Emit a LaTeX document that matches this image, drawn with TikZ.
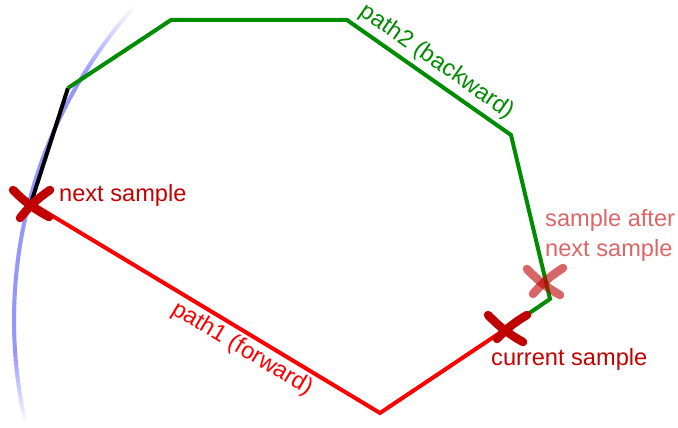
\documentclass[tikz,border=0pt]{standalone}
\usepackage{fontspec}
\setmainfont{Liberation Sans}
\definecolor{arcblue}{RGB}{150,150,255}
\definecolor{trgreen}{RGB}{0,140,0}
\definecolor{trred}{RGB}{255,0,0}
\definecolor{xred}{RGB}{192,0,0}
\definecolor{labred}{RGB}{196,0,0}
\begin{document}
\begin{tikzpicture}[x=1pt,y=-1pt,
  trace/.style={line width=4pt},
  xmark/.style={line width=8.5pt, line cap=round, draw=xred},
  lbl/.style={font=\fontsize{23.6}{30}\selectfont, inner sep=0pt}]
\useasboundingbox (0,0) rectangle (678,428);
% fading arc
\foreach \a in {167,167.5,...,221.5} {
  \pgfmathsetmacro\p{100*min(1,min((\a-166.8)/9,(222-\a)/11))}
  \draw[line width=4pt, draw=arcblue!\p!white] (482,320) ++(\a:468) arc[start angle=\a, end angle=\a+0.6, radius=468];
}
% points
\coordinate (cur) at (507,328);
\coordinate (nxt) at (31,203);
\coordinate (aft) at (545,281);
\coordinate (r1) at (528,314);
\coordinate (rb) at (380,413);
\coordinate (g1) at (550,299);
\coordinate (g2) at (511,135);
\coordinate (g3) at (347,20);
\coordinate (g4) at (171,20);
\coordinate (k) at (68,88);
% paths
\draw[trace,black] (nxt) -- (k);
\draw[trace,trgreen] (r1) -- (g1) -- (g2) -- (g3) -- (g4) -- (k);
\draw[trace,trred] (r1) -- (rb) -- (nxt);
% crosses
\draw[xmark] ([shift={(-18,-13)}]nxt) to[bend right=8] ([shift={(18,14)}]nxt);
\draw[xmark] ([shift={(19,-13)}]nxt) to[bend right=8] ([shift={(-11,15)}]nxt);
\draw[xmark] ([shift={(-19,-13)}]cur) to[bend right=8] ([shift={(16,14)}]cur);
\draw[xmark] ([shift={(20,-13)}]cur) to[bend right=8] ([shift={(-10,11)}]cur);
\begin{scope}[opacity=0.6]
\draw[xmark] ([shift={(-18,-12)}]aft) to[bend right=8] ([shift={(15,14)}]aft);
\draw[xmark] ([shift={(18,-13)}]aft) to[bend right=8] ([shift={(-12,13)}]aft);
\end{scope}
% labels
\node[lbl, text=labred, anchor=base west] (nl) at (59,201) {next sample};
\node[lbl, text=labred, anchor=base west] (cl) at (491,365) {current sample};
\node[lbl, text=labred, opacity=0.6, anchor=north west, align=left] (al) at (545,209) {sample after\\next sample};
\node[lbl, text=trred, rotate=-31] (p1) at (242,349) {path1 (forward)};
\node[lbl, text=trgreen, rotate=-35] (p2) at (437,62) {path2 (backward)};
\end{tikzpicture}
\end{document}
